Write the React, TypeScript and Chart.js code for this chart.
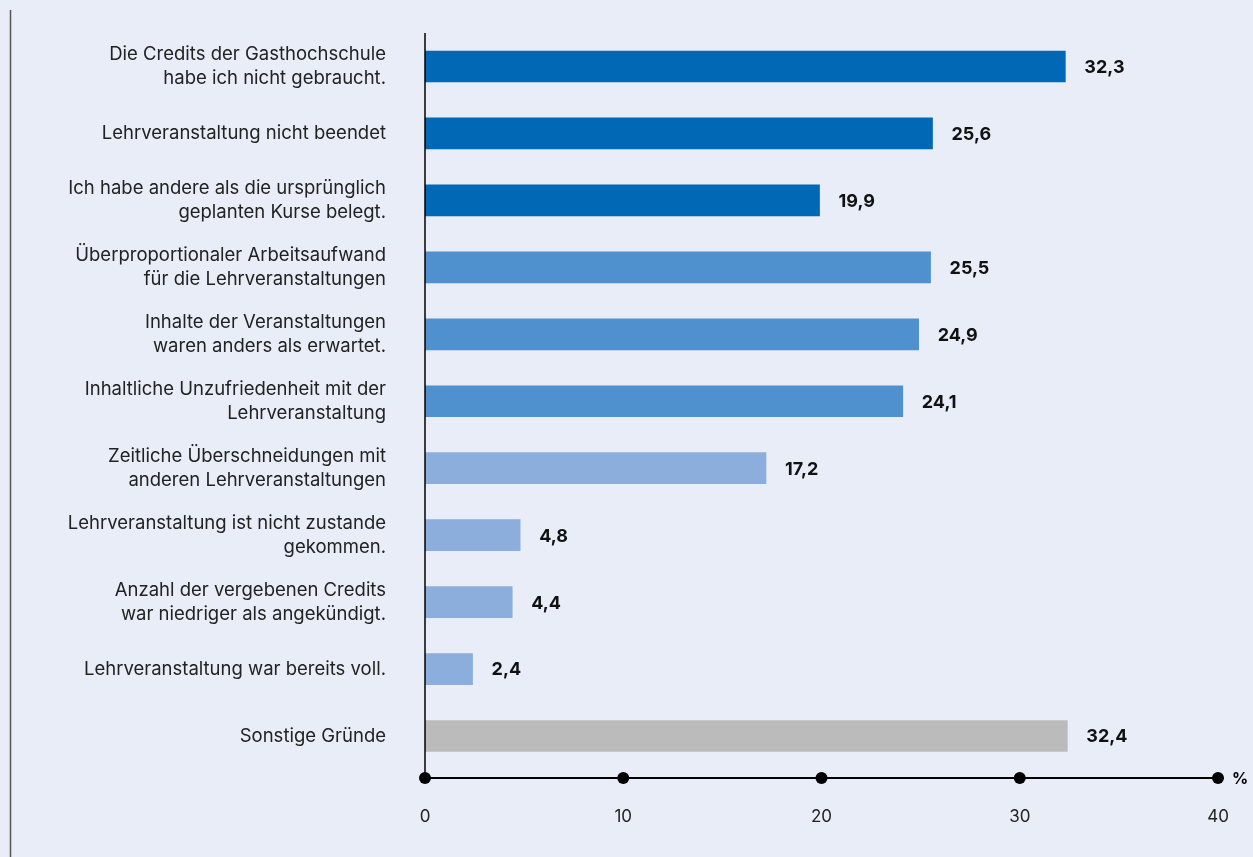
import React, { useEffect, useRef } from "react";
import { Chart, registerables } from "chart.js";

Chart.register(...registerables);

const categories: (string | string[])[] = [
  ["Die Credits der Gasthochschule", "habe ich nicht gebraucht."],
  "Lehrveranstaltung nicht beendet",
  ["Ich habe andere als die ursprünglich", "geplanten Kurse belegt."],
  ["Überproportionaler Arbeitsaufwand", "für die Lehrveranstaltungen"],
  ["Inhalte der Veranstaltungen", "waren anders als erwartet."],
  ["Inhaltliche Unzufriedenheit mit der", "Lehrveranstaltung"],
  ["Zeitliche Überschneidungen mit", "anderen Lehrveranstaltungen"],
  ["Lehrveranstaltung ist nicht zustande", "gekommen."],
  ["Anzahl der vergebenen Credits", "war niedriger als angekündigt."],
  "Lehrveranstaltung war bereits voll.",
  "Sonstige Gründe",
];

const values: number[] = [32.3, 25.6, 19.9, 25.5, 24.9, 24.1, 17.2, 4.8, 4.4, 2.4, 32.4];

const groups: number[] = [0, 0, 0, 1, 1, 1, 2, 2, 2, 2, 3];
const groupColors: string[] = ["#0068b4", "#4f90cf", "#8caedd", "#bbbbbb"];

const xTicks: number[] = [0, 10, 20, 30, 40];

const FONT = "Inter, Roboto, 'Noto Sans', sans-serif";

const overlay = {
  id: "overlay",
  afterDraw(chart: any) {
    const ctx = chart.ctx;
    const x = chart.scales.x;
    const y = chart.scales.y;
    const area = chart.chartArea;
    const axisY = area.bottom + 8.5;
    ctx.save();
    // left frame line
    ctx.strokeStyle = "#555";
    ctx.lineWidth = 1.5;
    ctx.beginPath();
    ctx.moveTo(10.5, 10);
    ctx.lineTo(10.5, chart.height);
    ctx.stroke();
    // y axis line
    ctx.strokeStyle = "#000";
    ctx.lineWidth = 1.5;
    const x0 = x.getPixelForValue(0);
    ctx.beginPath();
    ctx.moveTo(x0, area.top);
    ctx.lineTo(x0, axisY);
    ctx.stroke();
    // x axis line
    const xEnd = x.getPixelForValue(40);
    ctx.lineWidth = 2;
    ctx.beginPath();
    ctx.moveTo(x0, axisY);
    ctx.lineTo(xEnd, axisY);
    ctx.stroke();
    ctx.fillStyle = "#000";
    xTicks.forEach((t) => {
      const px = x.getPixelForValue(t);
      ctx.beginPath();
      ctx.arc(px, axisY, 6, 0, Math.PI * 2);
      ctx.fill();
    });
    ctx.font = "bold 16px " + FONT;
    ctx.textAlign = "left";
    ctx.textBaseline = "middle";
    ctx.fillText("%", xEnd + 14, axisY + 1);
    // value labels
    ctx.font = "bold 18px " + FONT;
    ctx.fillStyle = "#111";
    values.forEach((v, i) => {
      const px = x.getPixelForValue(v);
      const py = y.getPixelForValue(i);
      ctx.fillText(v.toFixed(1).replace(".", ","), px + 19, py + 1);
    });
    ctx.restore();
  },
};

export default function App() {
  const ref = useRef<HTMLCanvasElement | null>(null);
  useEffect(() => {
    document.body.style.margin = "0";
    document.body.style.background = "#e9edf7";
    const chart = new Chart(ref.current!, {
      type: "bar",
      data: {
        labels: categories,
        datasets: [
          {
            data: values,
            backgroundColor: groups.map((g) => groupColors[g]),
            barThickness: 31,
            borderWidth: 0,
          },
        ],
      },
      options: {
        indexAxis: "y",
        animation: false,
        responsive: false,
        maintainAspectRatio: false,
        layout: { padding: { top: 33, right: 35, left: 0, bottom: 0 } },
        plugins: { legend: { display: false }, tooltip: { enabled: false } },
        scales: {
          x: {
            min: 0,
            max: 40,
            afterFit: (s: any) => {
              s.height = 87.5;
              s.paddingLeft = 0;
              s.paddingRight = 0;
            },
            afterBuildTicks: (s: any) => {
              s.ticks = xTicks.map((v) => ({ value: v }));
            },
            grid: { display: false, drawTicks: false },
            border: { display: false },
            ticks: {
              padding: 37,
              color: "#222",
              font: { size: 17, family: FONT },
            },
          },
          y: {
            afterFit: (s: any) => {
              s.width = 425;
              s.paddingTop = 0;
              s.paddingBottom = 0;
            },
            grid: { display: false, drawTicks: false },
            border: { display: false },
            ticks: {
              padding: 39,
              color: "#222",
              font: { size: 18.5, family: FONT, lineHeight: 1.3 },
            },
          },
        },
      },
      plugins: [overlay],
    });
    return () => chart.destroy();
  }, []);
  return (
    <div style={{ width: 1253, height: 857, background: "#e9edf7" }}>
      <canvas ref={ref} width={1253} height={857} style={{ display: "block" }} />
    </div>
  );
}
